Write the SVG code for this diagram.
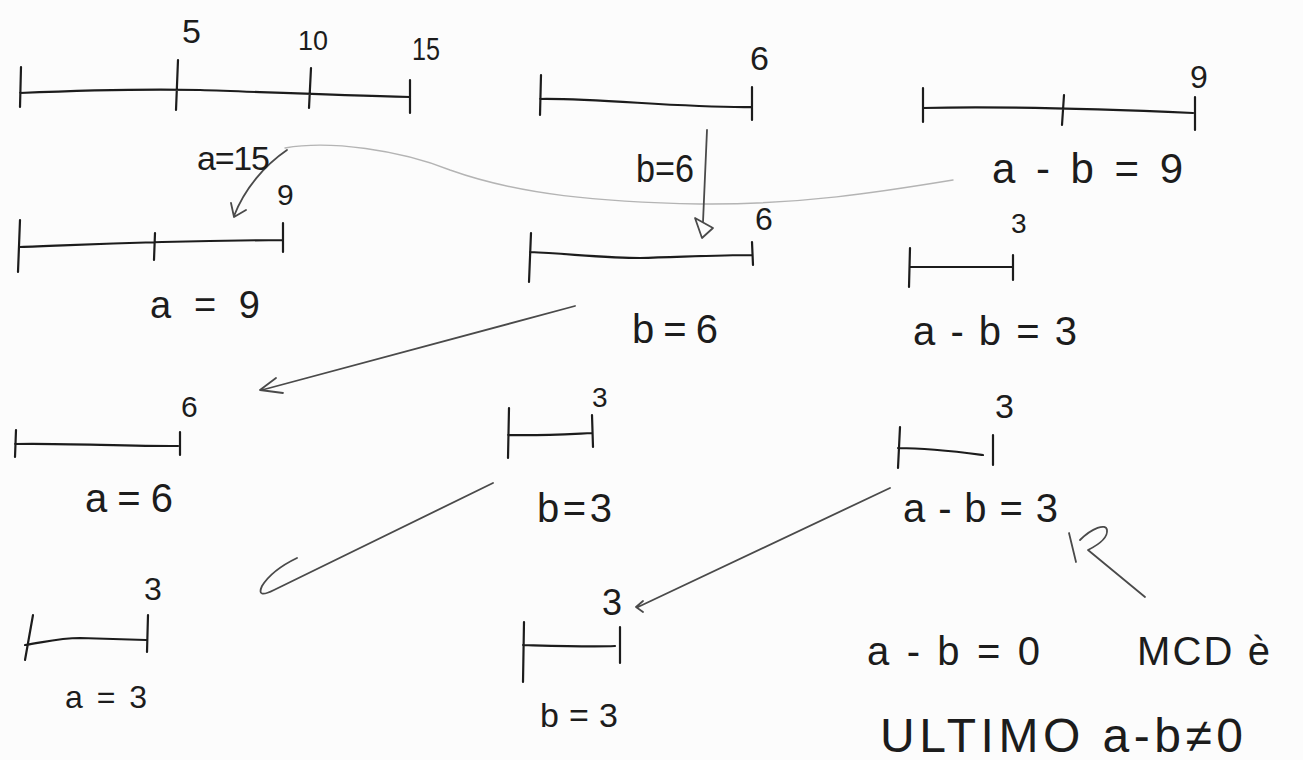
<svg xmlns="http://www.w3.org/2000/svg" width="1303" height="760" viewBox="0 0 1303 760">
<style>
.seg{fill:none;stroke:#1c1c1c;stroke-width:2.2;stroke-linecap:round;stroke-linejoin:round}
.con{fill:none;stroke:#4a4a4a;stroke-width:1.8;stroke-linecap:round;stroke-linejoin:round}
.faint{fill:none;stroke:#b4b4b4;stroke-width:1.4;stroke-linecap:round}
text{font-family:"Liberation Sans","DejaVu Sans",sans-serif;fill:#1c1c1c}
</style>
<rect width="1303" height="760" fill="#fcfcfc"/>

<g id="connectors">
  <path class="faint" d="M285,148 C330,140 400,150 450,170 C520,195 600,202 700,204 C800,205 880,192 953,180"/>
  <path class="con" d="M287,150 C265,165 245,188 234,216 M231,203 L234,217 L246,210"/>
  <path class="con" d="M707,130 L703,222 M695,218 L713,228 L702,238 Z"/>
  <path class="con" d="M575,306 L262,390 M276,378 L260,390 L283,393"/>
  <path class="con" d="M493,483 L274,590 Q256,599 262,586 Q272,570 297,558"/>
  <path class="con" d="M890,488 L638,607 M643,601 L636,607 L643,612"/>
  <path class="con" d="M1069,533 L1076,562 M1080,540 C1092,528 1106,523 1107,530 C1108,538 1098,545 1088,550 L1145,597"/>
</g>

<g id="seg-a15">
  <path class="seg" d="M20,93 C90,90 150,89 200,90 C260,92 330,95 410,97 M21,67 L20,107 M178,60 L176,110 M311,68 L309,108 M410,80 L410,113"/>
  <text x="182" y="43" font-size="34">5</text>
  <text x="298" y="50" font-size="28" textLength="30" lengthAdjust="spacingAndGlyphs">10</text>
  <text x="412" y="60" font-size="32" textLength="28" lengthAdjust="spacingAndGlyphs">15</text>
  <text x="197" y="170" font-size="34" textLength="73" lengthAdjust="spacing">a=15</text>
</g>

<g id="seg-b6-top">
  <path class="seg" d="M540,99 C600,98 680,108 752,107 M541,75 L540,115 M752,87 L752,120"/>
  <text x="750" y="70" font-size="34">6</text>
  <text x="636" y="182" font-size="38" textLength="58" lengthAdjust="spacingAndGlyphs">b=6</text>
</g>

<g id="seg-amb9">
  <path class="seg" d="M923,108 C1000,106 1100,109 1193,113 M923,88 L923,122 M1064,95 L1062,125 M1195,97 L1195,130"/>
  <text x="1190" y="88" font-size="32">9</text>
  <text x="992" y="183" font-size="42" textLength="191" lengthAdjust="spacing">a - b = 9</text>
</g>

<g id="seg-a9">
  <path class="seg" d="M20,247 C80,245 150,241 283,240 M20,220 L18,272 M155,233 L154,260 M283,223 L283,252"/>
  <text x="277" y="205" font-size="30">9</text>
  <text x="150" y="318" font-size="38" textLength="110" lengthAdjust="spacing">a = 9</text>
</g>

<g id="seg-b6">
  <path class="seg" d="M530,252 C570,254 610,258 640,258 C680,257 720,255 752,255 M531,233 L529,282 M752,242 L753,265"/>
  <text x="755" y="230" font-size="32">6</text>
  <text x="632" y="343" font-size="40" textLength="86" lengthAdjust="spacing">b=6</text>
</g>

<g id="seg-amb3">
  <path class="seg" d="M910,267 L1013,267 M910,248 L909,287 M1013,255 L1013,280"/>
  <text x="1011" y="233" font-size="28">3</text>
  <text x="913" y="345" font-size="40" textLength="164" lengthAdjust="spacing">a - b = 3</text>
</g>

<g id="seg-a6">
  <path class="seg" d="M15,444 C60,443 120,446 178,446 M16,430 L15,457 M180,432 L180,455"/>
  <text x="181" y="417" font-size="30">6</text>
  <text x="85" y="512" font-size="40" textLength="88" lengthAdjust="spacing">a=6</text>
</g>

<g id="seg-b3">
  <path class="seg" d="M508,435 C540,436 570,434 592,433 M509,408 L508,458 M592,415 L593,447"/>
  <text x="592" y="407" font-size="28">3</text>
  <text x="537" y="522" font-size="40" textLength="75" lengthAdjust="spacing">b=3</text>
</g>

<g id="seg-amb3-b">
  <path class="seg" d="M898,448 C930,448 960,452 983,455 M900,427 L898,468 M993,435 L993,465"/>
  <text x="995" y="418" font-size="34">3</text>
  <text x="903" y="522" font-size="40" textLength="155" lengthAdjust="spacing">a-b=3</text>
</g>

<g id="seg-a3">
  <path class="seg" d="M25,645 C45,642 60,638 80,638 L146,640 M33,615 L25,660 M148,615 L147,652"/>
  <text x="144" y="600" font-size="32">3</text>
  <text x="65" y="708" font-size="32" textLength="82" lengthAdjust="spacing">a=3</text>
</g>

<g id="seg-b3-b">
  <path class="seg" d="M523,645 C560,646 590,647 615,646 M524,622 L523,682 M620,627 L620,663"/>
  <text x="602" y="615" font-size="36">3</text>
  <text x="540" y="727" font-size="34" textLength="78" lengthAdjust="spacing">b=3</text>
</g>

<g id="conclusion">
  <text x="867" y="665" font-size="40" textLength="173" lengthAdjust="spacing">a-b=0</text>
  <text x="1137" y="665" font-size="40" textLength="133" lengthAdjust="spacing">MCD è</text>
  <text x="880" y="752" font-size="48" textLength="363" lengthAdjust="spacing">ULTIMO a-b≠0</text>
</g>
</svg>
